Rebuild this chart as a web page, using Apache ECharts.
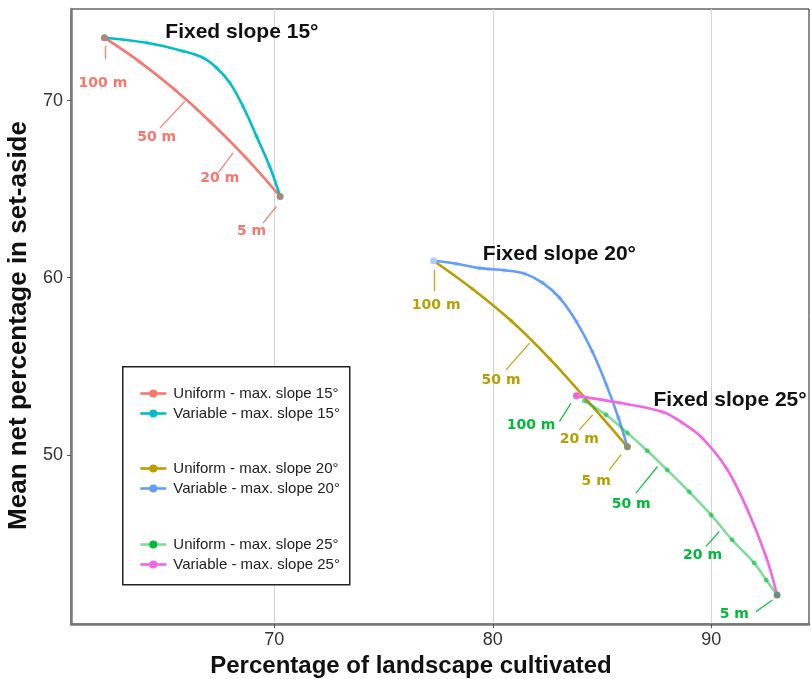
<!DOCTYPE html>
<html><head><meta charset="utf-8">
<script src="https://cdn.jsdelivr.net/npm/echarts@6/dist/echarts.min.js"></script>
<style>html,body{margin:0;padding:0;background:#fff}#c{width:811px;height:679px}</style>
</head><body><div id="c"></div>
<script>
// ---- tick values ----
const xTicks = [70, 80, 90];
const yTicks = [50, 60, 70];

// ---- series names ----
const seriesNames = [
  'Uniform - max. slope 15°', 'Variable - max. slope 15°',
  'Uniform - max. slope 20°', 'Variable - max. slope 20°',
  'Uniform - max. slope 25°', 'Variable - max. slope 25°'
];

// ---- series values [x = % cultivated, y = mean net % set-aside] ----
const uniform15 = [[62.23,73.55],[63.83,72.20],[65.44,70.62],[67.06,68.82],[68.68,66.81],[70.27,64.59]];
const variable15 = [[62.23,73.55],[64.16,73.26],[65.83,72.79],[66.75,72.41],[67.36,71.85],[67.97,71.00],[68.57,69.68],[69.19,67.98],[69.79,66.29],[70.27,64.59]];
const uniform20 = [[77.29,60.96],[79.06,59.38],[80.84,57.57],[82.61,55.42],[84.38,52.99],[86.16,50.45]];
const variable20 = [[77.29,60.96],[78.33,60.79],[79.39,60.54],[80.53,60.42],[81.45,60.23],[82.27,59.72],[83.05,58.87],[83.83,57.51],[84.56,55.82],[85.20,53.95],[85.75,52.09],[86.16,50.45]];
const uniform25 = [[84.19,53.05],[85.18,52.26],[86.16,51.24],[87.07,50.23],[87.98,49.15],[88.99,47.91],[89.99,46.61],[90.95,45.20],[91.96,43.90],[92.51,42.94],[93.01,42.09]];
const variable25 = [[83.83,53.33],[85.79,52.94],[87.76,52.43],[88.67,51.81],[89.58,50.96],[90.68,49.27],[91.60,47.06],[92.51,44.24],[93.01,42.09]];

// ---- annotations (buffer width labels) ----
const distLabels = ['100 m', '50 m', '20 m', '5 m'];
const leaders15 = [[[62.25,73.09],[62.25,72.34]],[[65.91,69.96],[64.77,68.46]],[[68.12,67.05],[67.43,65.92]],[[70.10,64.03],[69.49,63.09]]];
const textPos15 = [[62.16,71.00],[64.62,67.93],[67.51,65.63],[68.96,62.62]];
const leaders20 = [[[77.34,60.45],[77.34,59.23]],[[81.68,56.31],[80.61,54.80]],[[84.57,52.26],[83.96,51.41]],[[85.87,50.00],[85.33,49.15]]];
const textPos20 = [[77.41,58.42],[80.38,54.20],[83.96,50.85],[84.73,48.49]];
const leaders25 = [[[83.58,52.92],[83.05,51.88]],[[87.54,49.34],[86.55,47.84]],[[90.36,45.67],[89.75,44.82]],[[92.80,41.81],[92.04,41.15]]];
const textPos25 = [[81.75,51.64],[86.33,47.18],[89.60,44.35],[91.05,41.00]];

const panelTitles = ['Fixed slope 15°', 'Fixed slope 20°', 'Fixed slope 25°'];
const titlePos = [[68.52,73.84],[83.05,61.30],[90.86,53.11]];

// ---- build ----
const colors = ['#F8766D','#00BFC4','#B79F00','#619CFF','#00BA38','#F564E3'];
const allData = [uniform15, variable15, uniform20, variable20, uniform25, variable25];
const leaders = [leaders15, null, leaders20, null, leaders25, null];
const textPos = [textPos15, null, textPos20, null, textPos25, null];

const FONT = 'Liberation Sans';
const series = [];
allData.forEach((d, i) => {
  const s = {
    name: seriesNames[i], type: 'line', data: d, smooth: 0.35,
    symbol: 'circle', symbolSize: 5, color: colors[i],
    itemStyle: { color: colors[i], opacity: i === 4 ? 0.55 : 0.3 },
    lineStyle: { color: colors[i], width: 2.6, opacity: i === 4 ? 0.5 : 1 },
    z: 3
  };
  if (leaders[i]) {
    s.markLine = {
      silent: true, symbol: ['none', 'none'], animation: false,
      label: { show: false },
      lineStyle: { color: colors[i], width: 1.3, type: 'solid', opacity: 0.9 },
      emphasis: { disabled: true },
      data: leaders[i].map(l => [{ coord: l[0] }, { coord: l[1] }])
    };
  }
  series.push(s);
});

// distance label texts
allData.forEach((d, i) => {
  if (!textPos[i]) return;
  series.push({
    type: 'scatter', silent: true, symbolSize: 0, z: 5,
    itemStyle: { opacity: 1 },
    data: textPos[i].map((p, k) => ({ value: p, name: distLabels[k] })),
    label: { show: true, position: 'inside', formatter: '{b}', color: colors[i],
      textBorderWidth: 0, fontFamily: 'DejaVu Sans', fontWeight: 'bold', fontSize: 14 }
  });
});

// panel titles
series.push({
  type: 'scatter', silent: true, symbolSize: 0, z: 5,
  itemStyle: { opacity: 1 },
  data: titlePos.map((p, k) => ({ value: p, name: panelTitles[k] })),
  label: { show: true, position: 'inside', formatter: '{b}', color: '#111',
    textBorderWidth: 0, fontFamily: FONT, fontWeight: 'bold', fontSize: 21 }
});

// endpoints (overlapping points)
const endItems = [
  { value: uniform15[0], itemStyle: { color: '#a8877f' } },
  { value: uniform15[uniform15.length - 1], itemStyle: { color: '#a8877f' } },
  { value: variable20[0], itemStyle: { color: '#b3cdfa' } },
  { value: uniform20[uniform20.length - 1], itemStyle: { color: '#8d8c6c' } },
  { value: variable25[0], itemStyle: { color: '#F564E3' } },
  { value: uniform25[uniform25.length - 1], itemStyle: { color: '#6e8f7f' } }
];
series.push({ type: 'scatter', silent: true, symbolSize: 7, z: 4, itemStyle: { opacity: 1 }, data: endItems });

const legendBase = {
  orient: 'vertical', left: 134, itemGap: 5, itemWidth: 26, itemHeight: 10,
  selectedMode: false, z: 6,
  itemStyle: { opacity: 1 },
  lineStyle: { width: 2.6 },
  textStyle: { fontFamily: FONT, fontSize: 15, color: '#222', padding: [0, 0, 0, 2] }
};

const chart = echarts.init(document.getElementById('c'), null, { renderer: 'canvas' });
chart.setOption({
  animation: false,
  backgroundColor: '#fff',
  grid: { left: 71, right: 2, top: 9, bottom: 55, outerBoundsMode: 'none', containLabel: false,
    show: true, borderColor: '#1a1a1a', borderWidth: 1 },
  xAxis: {
    type: 'value', min: 60.70, max: 94.47,
    name: 'Percentage of landscape cultivated', nameLocation: 'middle', nameGap: 27,
    nameTextStyle: { fontFamily: FONT, fontWeight: 'bold', fontSize: 24, color: '#111', padding: [0, 58, 0, 0] },
    axisLine: { show: true, onZero: false, lineStyle: { color: '#7a7a7a', width: 2.5 } },
    axisTick: { show: true, length: 4, customValues: xTicks, lineStyle: { color: '#555' } },
    axisLabel: { customValues: xTicks, fontFamily: FONT, fontSize: 18, color: '#333', margin: 7 },
    splitLine: { show: true, lineStyle: { color: '#d3d3d3', width: 1 } }
  },
  yAxis: {
    type: 'value', min: 40.45, max: 75.17,
    name: 'Mean net percentage in set-aside', nameLocation: 'middle', nameGap: 27,
    nameTextStyle: { fontFamily: FONT, fontWeight: 'bold', fontSize: 26, color: '#111', padding: [0, 18, 0, 0] },
    axisLine: { show: true, onZero: false, lineStyle: { color: '#7a7a7a', width: 2.5 } },
    axisTick: { show: true, length: 4, customValues: yTicks, lineStyle: { color: '#555' } },
    axisLabel: { customValues: yTicks, fontFamily: FONT, fontSize: 18, color: '#333', margin: 8 },
    splitLine: { show: false }
  },
  legend: [
    Object.assign({}, legendBase, { top: 381, data: [seriesNames[0], seriesNames[1]] }),
    Object.assign({}, legendBase, { top: 456, data: [seriesNames[2], seriesNames[3]] }),
    Object.assign({}, legendBase, { top: 532, data: [seriesNames[4], seriesNames[5]] })
  ],
  graphic: [{
    type: 'rect', left: 122, top: 366, z: 3, silent: true,
    shape: { width: 227, height: 218 },
    style: { fill: '#fff', stroke: '#222', lineWidth: 1.5 }
  }],
  series: series
});
</script></body></html>
